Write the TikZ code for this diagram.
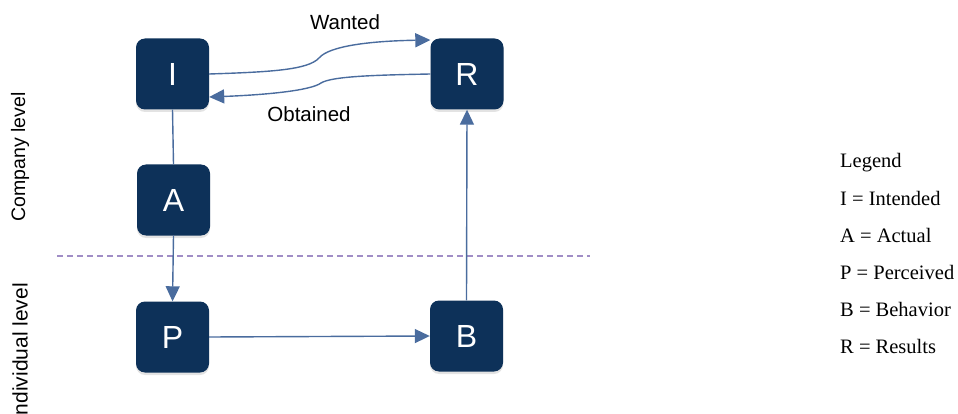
\documentclass[tikz,border=0pt]{standalone}
\usepackage{fontspec}
\setmainfont{Liberation Sans}
\newfontfamily\legendfont{Liberation Serif}
\usetikzlibrary{arrows.meta,shadows,calc}

\definecolor{boxnavy}{HTML}{0D3159}
\definecolor{flowblue}{HTML}{4A6C9E}
\definecolor{splitpurple}{HTML}{A08DC6}

\tikzset{
  stage/.style={draw=none, fill=boxnavy, rounded corners=9pt,
    minimum width=73pt, minimum height=71pt, inner sep=0pt,
    text=white, font=\fontsize{32}{32}\selectfont,
    drop shadow={opacity=0.22, shadow xshift=0pt, shadow yshift=-2.5pt}},
  flow/.style={draw=flowblue, line width=1.4pt,
    -{Triangle[length=15pt,width=14pt]}},
  link/.style={draw=flowblue, line width=1.4pt},
  flowlabel/.style={font=\fontsize{20.5}{20.5}\selectfont, inner sep=0pt, anchor=base},
  sidelabel/.style={font=\fontsize{19.5}{19.5}\selectfont, inner sep=0pt,
    rotate=90, anchor=east},
  legendline/.style={font=\legendfont\fontsize{20.5}{20.5}\selectfont,
    inner sep=0pt, anchor=base west}
}

\begin{document}
\begin{tikzpicture}[x=1pt,y=-1pt]
\useasboundingbox (0,0) rectangle (958,414);
\clip (0,0) rectangle (958,414);

% stages
\node[stage] (I) at (172.5,74) {I};
\node[stage] (R) at (467,74) {R};
\node[stage] (A) at (173.5,200) {A};
\node[stage] (P) at (172.5,337) {P};
\node[stage] (B) at (466.5,336) {B};

% level separator
\coordinate (sepL) at (57,256);
\coordinate (sepR) at (590,256);
\draw[splitpurple, line width=1.1pt, dash pattern=on 6pt off 4pt] (sepL) -- (sepR);

% wanted / obtained exchange
\coordinate (wantEnd) at ($(R.west)+(0,-34)$);
\coordinate (gotEnd) at ($(I.east)+(0,23)$);
\draw[flow] (I.east) .. controls (270,72) and (308,70) .. (319,58)
  .. controls (329,46) and (370,41) .. (wantEnd);
\draw[flow] (R.west) .. controls (380,75) and (332,76) .. (321,83)
  .. controls (310,91) and (262,95) .. (gotEnd);
\node[flowlabel] (wanted) at (345,30) {Wanted};
\node[flowlabel] (obtained) at (309,122) {Obtained};

% chain through the levels
\draw[link] (I.south) -- (A.north);
\draw[flow] (A.south) -- (P.north);
\draw[flow] (P.east) -- (B.west);
\draw[flow] (B.north) -- (R.south);

% level names (the lower one runs past the bottom edge)
\node[sidelabel] (company) at (20,92) {Company level};
\node[sidelabel, font=\fontsize{21}{21}\selectfont] (individual) at (20,283) {Individual level};

% legend
\node[legendline] (lg0) at (840,168) {Legend};
\node[legendline] (lg1) at (840,205) {I = Intended};
\node[legendline] (lg2) at (840,242) {A = Actual};
\node[legendline] (lg3) at (840,279) {P = Perceived};
\node[legendline] (lg4) at (840,316) {B = Behavior};
\node[legendline] (lg5) at (840,353) {R = Results};
\end{tikzpicture}
\end{document}
